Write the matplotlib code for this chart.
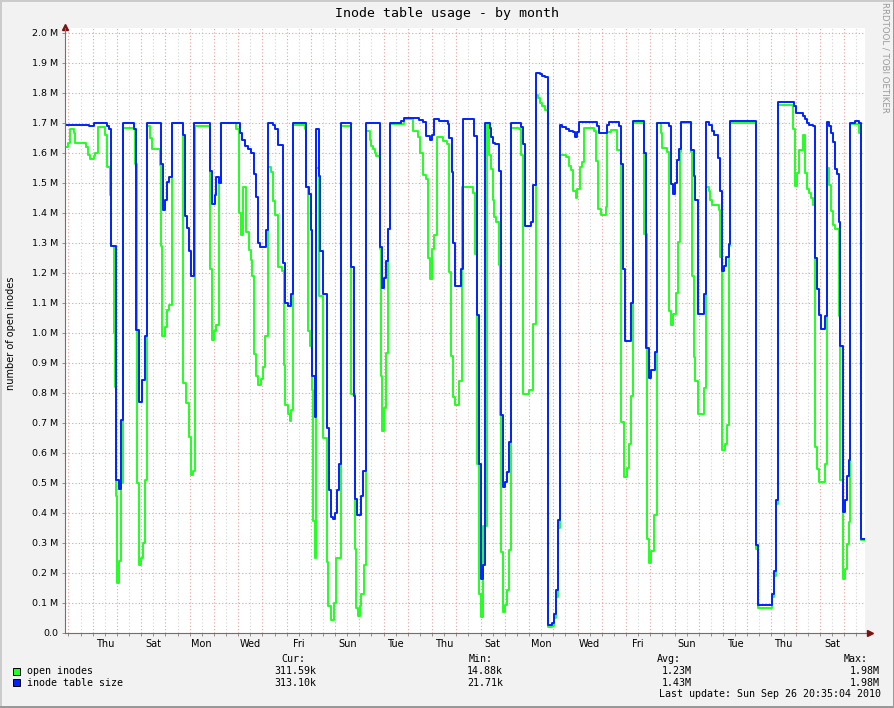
import datetime as dt

import matplotlib
matplotlib.use("Agg")
import matplotlib.pyplot as plt
from matplotlib.patches import Rectangle

W, H = 895, 708

# graph covers 33 days ending at the last update
start = dt.datetime(2010, 8, 24, 20, 35)
span_hours = 33 * 24

# open inodes: hours since start / millions
green_hours = [
    0.0, 3.0, 5.2, 8.6, 9.6, 20.8, 22.8, 25.0, 28.4, 30.0,
    32.7, 39.9, 41.6, 44.3, 45.8, 48.2, 49.8, 50.5, 51.5, 53.8,
    55.7, 57.4, 68.0, 69.6, 71.3, 73.6, 75.2, 76.9, 78.9, 81.2,
    84.4, 86.1, 93.8, 95.0, 96.0, 98.7, 100.7, 102.7, 105.9, 116.5,
    117.1, 119.8, 122.5, 124.4, 126.4, 128.4, 143.6, 145.5, 147.2, 149.5,
    152.8, 154.1, 169.6, 172.0, 174.5, 176.5, 179.5, 181.9, 183.8, 185.1,
    187.1, 188.8, 191.1, 193.7, 196.0, 197.7, 201.0, 203.6, 205.9, 208.2,
    210.9, 215.1, 216.5, 218.1, 220.8, 222.5, 224.0, 225.7, 237.9, 238.9,
    240.6, 242.3, 244.5, 245.5, 247.2, 248.8, 251.2, 255.4, 259.1, 260.4,
    263.0, 266.3, 268.6, 273.5, 283.4, 286.8, 288.4, 290.1, 291.8, 293.3,
    295.7, 298.3, 301.7, 303.2, 304.9, 306.6, 308.2, 311.9, 312.5, 313.8,
    316.1, 318.1, 320.1, 321.8, 335.9, 344.8, 349.2, 351.5, 354.1, 357.4,
    359.1, 361.3, 363.3, 365.6, 368.3, 373.9, 377.9, 379.9, 382.1, 384.4,
    386.4, 390.4, 393.0, 403.6, 405.6, 407.6, 410.2, 412.1, 414.1, 417.5,
    420.1, 421.7, 423.4, 425.0, 426.7, 429.4, 430.7, 431.9, 433.9, 435.9,
    437.6, 439.9, 441.8, 449.8, 451.7, 453.7, 459.7, 463.6, 466.6, 468.3,
    470.3, 472.5, 474.9, 478.2, 482.4, 484.1, 485.8, 488.1, 490.1, 495.7,
    499.0, 501.2, 503.2, 505.6, 507.2, 509.9, 511.5, 513.8, 523.7, 525.7,
    527.7, 530.3, 535.3, 536.9, 540.2, 546.8, 550.7, 553.4, 556.1, 558.1,
    560.0, 562.0, 573.2, 576.5, 578.5, 580.4, 583.1, 585.8, 589.7, 591.3,
    595.7, 598.0, 600.2, 602.2, 604.6, 606.9, 608.5, 610.1, 619.4, 621.0,
    622.4, 624.0, 626.7, 632.6, 634.6, 637.3, 638.9, 640.5, 647.2, 648.5,
    650.4, 653.1, 655.1, 657.1, 658.6, 684.1, 686.1, 699.9, 701.6, 703.9,
    705.9, 720.4, 722.4, 724.7, 726.4, 730.3, 732.9, 734.9, 736.9, 738.5,
    740.2, 742.2, 744.5, 746.8, 752.1, 754.4, 756.7, 758.6, 760.6, 762.6,
    766.0, 767.5, 769.9, 771.9, 774.2, 775.9, 777.4, 785.8, 788.3,
]
green_values = [
    1.62, 1.635, 1.68, 1.667, 1.633, 1.62, 1.595, 1.58, 1.59, 1.60,
    1.687, 1.66, 1.553, 1.46, 1.29, 1.00, 0.82, 0.458, 0.167, 0.24,
    0.50, 1.685, 1.68, 1.565, 0.50, 0.226, 0.25, 0.30, 0.51, 1.69,
    1.65, 1.615, 1.56, 1.29, 0.99, 1.02, 1.077, 1.095, 1.70, 1.66,
    0.833, 0.768, 0.655, 0.526, 0.54, 1.69, 1.214, 0.976, 1.006, 1.026,
    1.50, 1.70, 1.68, 1.40, 1.327, 1.485, 1.336, 1.276, 1.244, 1.19,
    0.929, 0.857, 0.827, 0.848, 0.887, 0.99, 1.553, 1.536, 1.44, 1.395,
    1.22, 1.208, 0.893, 0.76, 0.729, 0.708, 0.744, 1.693, 1.68, 1.488,
    1.006, 0.958, 0.81, 0.375, 0.25, 1.55, 1.125, 0.649, 0.238, 0.089,
    0.045, 0.101, 0.25, 1.69, 0.798, 0.28, 0.083, 0.057, 0.089, 0.131,
    0.226, 1.673, 1.643, 1.625, 1.613, 1.60, 1.589, 1.28, 0.857, 0.673,
    0.75, 0.935, 1.348, 1.696, 1.712, 1.673, 1.655, 1.60, 1.526, 1.514,
    1.25, 1.181, 1.28, 1.327, 1.652, 1.64, 1.631, 1.202, 0.923, 0.786,
    0.76, 0.839, 1.488, 1.467, 1.262, 0.562, 0.131, 0.054, 0.357, 1.70,
    1.595, 1.548, 1.443, 1.387, 1.369, 1.226, 0.726, 0.271, 0.071, 0.095,
    0.143, 0.276, 1.685, 1.679, 1.595, 0.798, 0.81, 1.03, 1.794, 1.784,
    1.768, 1.756, 1.743, 0.02, 0.025, 0.05, 0.12, 0.35, 1.595, 1.586,
    1.556, 1.543, 1.475, 1.451, 1.481, 1.553, 1.57, 1.685, 1.673, 1.574,
    1.414, 1.395, 1.42, 1.669, 1.677, 1.611, 0.704, 0.521, 0.549, 0.63,
    0.79, 1.70, 1.331, 0.315, 0.235, 0.272, 0.395, 1.70, 1.667, 1.617,
    1.605, 1.074, 1.027, 1.062, 1.133, 1.302, 1.602, 1.70, 1.605, 1.191,
    0.92, 0.84, 0.731, 0.817, 1.488, 1.475, 1.444, 1.428, 1.41, 1.253,
    0.611, 0.63, 0.694, 1.29, 1.70, 0.28, 0.085, 0.12, 0.19, 0.43,
    1.76, 1.68, 1.491, 1.533, 1.611, 1.66, 1.533, 1.479, 1.467, 1.451,
    1.426, 0.62, 0.546, 0.504, 0.565, 1.549, 1.494, 1.407, 1.36, 1.348,
    1.056, 0.509, 0.179, 0.212, 0.296, 0.37, 1.698, 1.667, 0.3116,
]

# inode table size: hours since start / millions
blue_hours = [
    0.0, 23.5, 28.4, 41.6, 43.3, 45.8, 50.5, 53.2, 55.7, 57.4,
    68.0, 70.3, 73.0, 76.2, 78.9, 81.2, 95.0, 96.7, 99.3, 101.3,
    103.3, 105.9, 116.5, 119.1, 121.1, 123.1, 125.0, 127.7, 143.6, 145.5,
    148.2, 149.5, 152.2, 154.1, 173.0, 175.2, 178.5, 181.2, 184.4, 187.1,
    189.4, 191.1, 193.3, 199.3, 201.0, 205.9, 208.2, 210.9, 215.8, 218.1,
    220.8, 223.4, 225.7, 238.9, 241.3, 243.2, 244.8, 247.2, 248.8, 251.2,
    252.5, 255.7, 259.4, 261.7, 263.6, 265.3, 267.0, 269.0, 271.6, 273.5,
    283.4, 285.8, 287.4, 289.4, 293.3, 295.3, 298.3, 311.9, 313.8, 316.1,
    318.1, 320.1, 321.8, 332.6, 335.9, 350.8, 354.1, 357.4, 361.3, 363.3,
    365.6, 370.6, 378.9, 380.5, 383.1, 384.4, 386.4, 392.0, 393.7, 405.2,
    407.6, 410.2, 411.8, 413.5, 416.1, 420.8, 422.0, 424.0, 426.0, 430.0,
    431.9, 433.9, 435.9, 437.6, 439.9, 441.5, 451.4, 453.1, 455.4, 461.3,
    463.6, 466.6, 470.3, 472.5, 474.9, 478.2, 482.4, 484.1, 485.8, 488.1,
    490.1, 492.3, 495.7, 499.0, 503.2, 504.6, 507.2, 508.9, 526.4, 528.7,
    536.9, 538.6, 548.8, 550.7, 552.7, 554.1, 560.0, 562.0, 573.2, 575.5,
    577.9, 580.4, 583.8, 585.8, 598.0, 599.6, 601.9, 603.9, 605.6, 607.9,
    609.5, 619.4, 622.4, 624.0, 626.7, 632.6, 634.6, 637.9, 640.5, 642.5,
    646.5, 648.7, 650.4, 652.4, 654.4, 657.1, 658.6, 684.1, 686.1, 699.9,
    701.6, 703.9, 705.9, 721.4, 723.7, 730.3, 732.9, 734.9, 736.9, 740.2,
    742.8, 744.5, 746.8, 748.7, 752.7, 754.4, 756.1, 758.0, 760.0, 762.0,
    764.6, 766.0, 767.5, 769.9, 772.5, 773.9, 775.9, 777.4, 782.4, 785.8,
    788.3,
]
blue_values = [
    1.695, 1.69, 1.70, 1.69, 1.68, 1.29, 0.51, 0.48, 0.71, 1.70,
    1.68, 1.01, 0.77, 0.845, 0.99, 1.70, 1.565, 1.41, 1.445, 1.505,
    1.52, 1.70, 1.66, 1.39, 1.35, 1.275, 1.19, 1.70, 1.54, 1.43,
    1.46, 1.52, 1.50, 1.70, 1.667, 1.643, 1.625, 1.613, 1.60, 1.53,
    1.452, 1.30, 1.286, 1.345, 1.70, 1.693, 1.68, 1.627, 1.232, 1.10,
    1.09, 1.13, 1.70, 1.488, 1.464, 1.345, 0.857, 0.72, 1.68, 1.524,
    1.274, 1.13, 0.685, 0.476, 0.387, 0.379, 0.40, 0.476, 0.565, 1.70,
    1.22, 0.79, 0.446, 0.393, 0.458, 0.54, 1.70, 1.286, 1.15, 1.185,
    1.24, 1.348, 1.70, 1.708, 1.717, 1.71, 1.705, 1.657, 1.643, 1.66,
    1.712, 1.708, 1.696, 1.649, 1.538, 1.30, 1.157, 1.214, 1.712, 1.657,
    1.06, 0.562, 0.18, 0.226, 1.70, 1.685, 1.655, 1.633, 1.63, 1.54,
    0.726, 0.488, 0.502, 0.536, 0.637, 1.70, 1.688, 1.63, 1.357, 1.369,
    1.494, 1.868, 1.862, 1.858, 1.854, 0.027, 0.035, 0.065, 0.142, 0.376,
    1.694, 1.688, 1.681, 1.675, 1.669, 1.652, 1.669, 1.704, 1.69, 1.667,
    1.694, 1.704, 1.69, 1.562, 1.212, 0.973, 1.101, 1.706, 1.599, 0.951,
    0.849, 0.877, 0.938, 1.701, 1.69, 1.496, 1.463, 1.50, 1.578, 1.615,
    1.704, 1.611, 1.525, 1.444, 1.062, 1.13, 1.704, 1.694, 1.673, 1.66,
    1.583, 1.472, 1.207, 1.222, 1.253, 1.296, 1.706, 0.294, 0.095, 0.13,
    0.207, 0.444, 1.769, 1.756, 1.735, 1.722, 1.712, 1.701, 1.695, 1.689,
    1.249, 1.148, 1.059, 1.015, 1.056, 1.704, 1.69, 1.667, 1.636, 1.546,
    1.531, 1.37, 0.957, 0.405, 0.442, 0.525, 0.578, 1.701, 1.707, 1.70,
    0.313,
]

series_names = ["open inodes", "inode table size"]
series_colors = ["#22ff22", "#0022ff"]
cur_text = ["311.59k", "313.10k"]
min_text = ["14.88k", "21.71k"]
avg_text = ["1.23M", "1.43M"]
max_text = ["1.98M", "1.98M"]
last_update = "Last update: Sun Sep 26 20:35:04 2010"

MONO = "DejaVu Sans Mono"
SANS = "DejaVu Sans"


def fx(x):
    return x / W


def fy(y):
    return 1 - y / H


fig = plt.figure(figsize=(W / 100, H / 100), dpi=100, facecolor="#f2f2f2")

# 3d-ish frame round the picture
fig.add_artist(Rectangle((0, fy(2)), 1, 2 / H, transform=fig.transFigure, color="#cbcbcb", lw=0))
fig.add_artist(Rectangle((0, 0), 2 / W, 1, transform=fig.transFigure, color="#cbcbcb", lw=0))
fig.add_artist(Rectangle((0, 0), 1, 2 / H, transform=fig.transFigure, color="#999999", lw=0))
fig.add_artist(Rectangle((fx(W - 2), 0), 2 / W, 1, transform=fig.transFigure, color="#999999", lw=0))

top_px, bottom_px, left_px, right_px = 28, 633, 65, 865
ax = fig.add_axes([fx(left_px), fy(bottom_px), (right_px - left_px) / W, (bottom_px - top_px) / H])
ax.set_facecolor("white")
ax.set_xlim(0, span_hours)
ax.set_ylim(0, 2.0 * (bottom_px - top_px) / (bottom_px - 33))

# grid: red each day / each 0.1M, grey every 12h
first_midnight = (dt.datetime(2010, 8, 25) - start).total_seconds() / 3600
midnights = [first_midnight + 24 * k for k in range(33) if first_midnight + 24 * k < span_hours]
noons = [m + 12 for m in midnights if m + 12 < span_hours]
noon_labels = []
for i, h in enumerate(noons):
    day = start + dt.timedelta(hours=h)
    noon_labels.append(day.strftime("%a") if i % 2 == 1 else "")

yticks = [k / 10 for k in range(21)]
ax.set_yticks(yticks, ["0.0"] + [f"{v:.1f} M" for v in yticks[1:]])
ax.set_xticks(midnights, [""] * len(midnights))
ax.set_xticks(noons, noon_labels, minor=True)

ax.grid(True, which="major", color="#e8a0a0", linestyle=(0, (1, 2)), linewidth=0.8)
ax.grid(True, which="minor", axis="x", color="#d4d4d4", linestyle=(0, (1, 2)), linewidth=0.8)
ax.set_axisbelow(True)

ax.tick_params(which="both", direction="out", length=2, width=0.6, color="#808080")
ax.tick_params(axis="y", labelsize=6.8, pad=3)
ax.tick_params(axis="x", which="minor", labelsize=7, pad=2.5)
for lab in ax.get_xticklabels(minor=True) + ax.get_yticklabels():
    lab.set_family(SANS)

for side in ["top", "right"]:
    ax.spines[side].set_visible(False)
for side in ["left", "bottom"]:
    ax.spines[side].set_color("#707070")
    ax.spines[side].set_linewidth(0.8)

# axis arrows
ax.plot([1.0, 1.006], [0, 0], transform=ax.transAxes, color="#707070", lw=0.8, clip_on=False)
ax.plot([1.006], [0], marker=">", markersize=4, color="#7f1010", transform=ax.transAxes, clip_on=False)
ax.plot([0], [1.002], marker="^", markersize=4, color="#7f1010", transform=ax.transAxes, clip_on=False)

# series
ax.step(green_hours + [span_hours], green_values + [green_values[-1]], where="post",
        color=series_colors[0], lw=1.4)
ax.step(blue_hours + [span_hours], blue_values + [blue_values[-1]], where="post",
        color=series_colors[1], lw=1.4)

# titles
fig.text(fx(447), fy(14), "Inode table usage - by month", ha="center", va="center",
         family=MONO, fontsize=9.5)
fig.text(fx(11.5), fy(333), "number of open inodes", rotation=90, ha="center", va="center",
         family=SANS, fontsize=7)
fig.text(fx(885), fy(57), "RRDTOOL / TOBI OETIKER", rotation=270, ha="center", va="center",
         family=SANS, fontsize=6.2, color="#999999")

# legend
fs = 7.2
fig.text(fx(281), fy(659), "Cur:", ha="left", va="center", family=MONO, fontsize=fs)
fig.text(fx(469), fy(659), "Min:", ha="left", va="center", family=MONO, fontsize=fs)
fig.text(fx(657), fy(659), "Avg:", ha="left", va="center", family=MONO, fontsize=fs)
fig.text(fx(844), fy(659), "Max:", ha="left", va="center", family=MONO, fontsize=fs)
for i, name in enumerate(series_names):
    y = 671 + 11.6 * i
    fig.add_artist(Rectangle((fx(13.5), fy(y + 3.5)), 7 / W, 7 / H, transform=fig.transFigure,
                             facecolor=series_colors[i], edgecolor="black", lw=0.7))
    fig.text(fx(27), fy(y), name, ha="left", va="center", family=MONO, fontsize=fs)
    fig.text(fx(316), fy(y), cur_text[i], ha="right", va="center", family=MONO, fontsize=fs)
    fig.text(fx(503), fy(y), min_text[i], ha="right", va="center", family=MONO, fontsize=fs)
    fig.text(fx(692), fy(y), avg_text[i], ha="right", va="center", family=MONO, fontsize=fs)
    fig.text(fx(880), fy(y), max_text[i], ha="right", va="center", family=MONO, fontsize=fs)
fig.text(fx(881), fy(694), last_update, ha="right", va="center", family=MONO, fontsize=fs)

fig.savefig("out.png", dpi=100, facecolor=fig.get_facecolor())
